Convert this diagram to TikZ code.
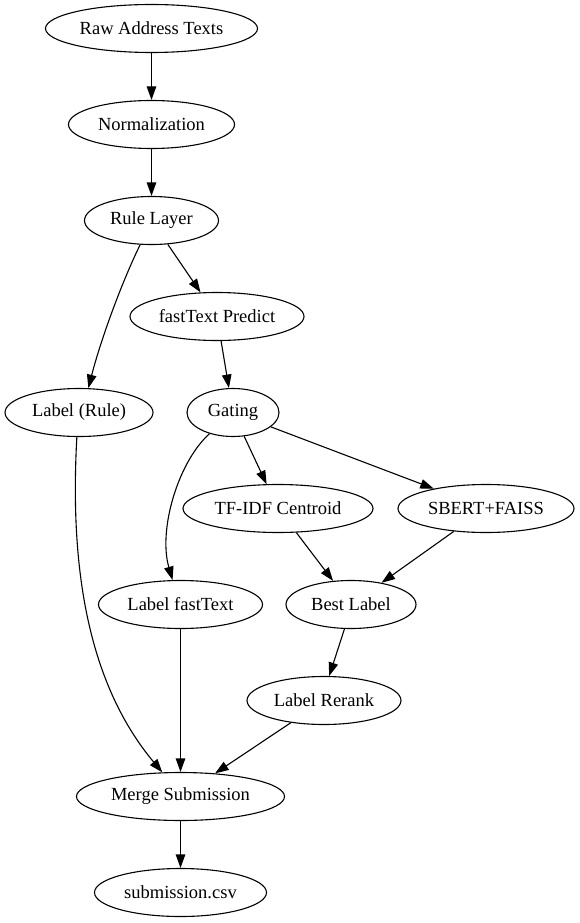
\documentclass[tikz,border=0pt]{standalone}
\usepackage{fontspec}
\setmainfont{Liberation Serif}
\usetikzlibrary{shapes.geometric,arrows.meta}
\begin{document}
\begin{tikzpicture}[x=1pt,y=-1pt,
  nd/.style={ellipse,draw,line width=1.1pt,minimum height=48pt,inner sep=0pt,font=\fontsize{18.5pt}{20pt}\selectfont},
  ar/.style={-{Triangle[length=13.5pt,width=9.5pt]},line width=1.1pt}]
\useasboundingbox (0,0) rectangle (580,923);
\node[nd,minimum width=212pt] (raw) at (151.5,28.5) {Raw Address Texts};
\node[nd,minimum width=166pt] (norm) at (151.5,124.5) {Normalization};
\node[nd,minimum width=134pt] (rule) at (151.5,220.5) {Rule Layer};
\node[nd,minimum width=174pt] (ftp) at (217,316.5) {fastText Predict};
\node[nd,minimum width=148pt] (lrule) at (79,412.5) {Label (Rule)};
\node[nd,minimum width=92pt] (gate) at (233,412.5) {Gating};
\node[nd,minimum width=190pt] (tfidf) at (278,508.5) {TF-IDF Centroid};
\node[nd,minimum width=176pt] (sbert) at (486,508.5) {SBERT+FAISS};
\node[nd,minimum width=164pt] (lft) at (180.5,604.5) {Label fastText};
\node[nd,minimum width=130pt] (best) at (351,604.5) {Best Label};
\node[nd,minimum width=154pt] (rerank) at (324,700.5) {Label Rerank};
\node[nd,minimum width=208pt] (merge) at (180.5,796.5) {Merge Submission};
\node[nd,minimum width=172pt] (sub) at (180.5,892.5) {submission.csv};
\draw[ar] (raw) -- (norm);
\draw[ar] (norm) -- (rule);
\draw[ar] (rule) -- (ftp);
\draw[ar] (rule.245) .. controls (125,275) and (102,335) .. (lrule.69);
\draw[ar] (ftp) -- (gate);
\draw[ar] (gate.222) .. controls (178,462) and (158,530) .. (lft.108);
\draw[ar] (gate) -- (tfidf);
\draw[ar] (gate) -- (sbert);
\draw[ar] (tfidf) -- (best);
\draw[ar] (sbert) -- (best);
\draw[ar] (best.255) -- (rerank.78);
\draw[ar] (lrule.265) .. controls (70,560) and (85,680) .. (merge.127);
\draw[ar] (lft) -- (merge);
\draw[ar] (rerank) -- (merge);
\draw[ar] (merge) -- (sub);
\end{tikzpicture}
\end{document}
